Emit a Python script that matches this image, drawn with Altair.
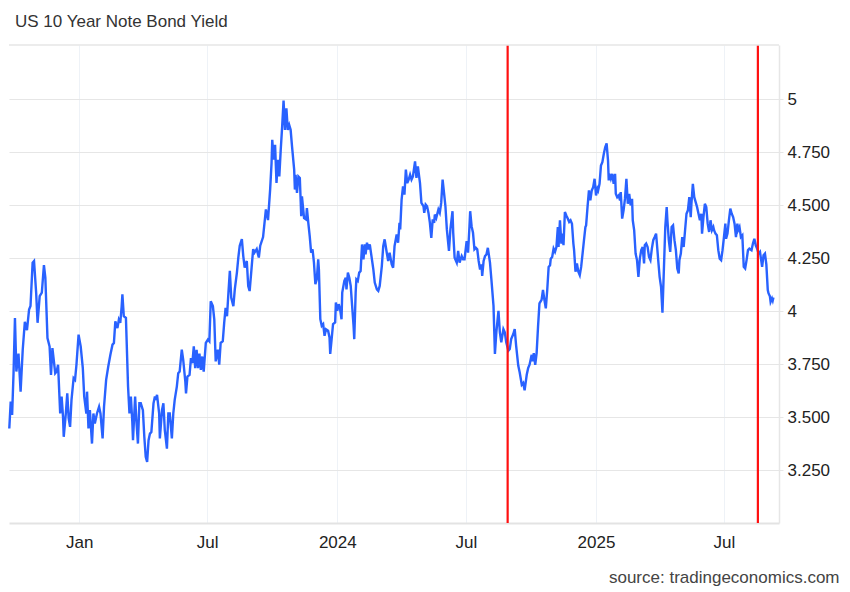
import altair as alt
import pandas as pd

title_text = "US 10 Year Note Bond Yield"
source_text = "source: tradingeconomics.com"

# day offsets from base_date and the yield values
base_date = "2023-01-01"
day_offsets = [
    -99, -97, -95, -93, -91, -89, -86, -83, -80, -77, -74, -71, -69, -66, -64, -61, -59, -56, -53, -50,
    -48, -45, -42, -40, -38, -34, -32, -30, -27, -25, -23, -22, -19, -17, -15, -13, -11, -8, -6, -4,
    -1, 2, 5, 7, 10, 11, 13, 15, 18, 20, 22, 25, 28, 30, 33, 35, 38, 41, 44, 47,
    49, 51, 54, 56, 58, 60, 61, 63, 66, 69, 71, 73, 75, 76, 79, 81, 83, 85, 87, 90,
    92, 94, 96, 98, 100, 102, 105, 107, 108, 110, 113, 114, 117, 119, 121, 124, 126, 128, 131, 133,
    135, 138, 140, 142, 145, 147, 150, 151, 153, 156, 158, 160, 162, 164, 166, 168, 170, 172, 174, 176,
    179, 182, 184, 186, 189, 191, 193, 196, 198, 200, 203, 205, 207, 209, 211, 213, 215, 218, 220, 223,
    225, 227, 230, 232, 234, 237, 239, 241, 244, 246, 248, 251, 254, 256, 260, 264, 267,
    270, 272, 273, 275, 277, 279, 281, 283, 285, 287, 289, 291, 293, 295, 297, 299, 301, 304, 305, 306,
    308, 310, 312, 314, 315, 318, 321, 322, 324, 326, 328, 330, 332, 334, 336, 338, 339, 341, 343, 345,
    347, 349, 352, 354, 355, 357, 359, 362, 363, 365, 367, 369, 371, 372, 375, 377, 378, 380, 382, 384,
    386, 388, 389, 391, 392, 394, 396, 398, 400, 402, 404, 405, 407, 409, 411, 413, 416, 418, 421, 423,
    425, 428, 430, 432, 435, 437, 439, 442, 444, 446, 449, 451, 453, 454, 456, 458, 460, 462, 464, 466,
    468, 470, 472, 475, 477, 479, 482, 484, 487, 488, 490, 492, 494, 496, 498, 500, 502, 503, 505, 508,
    510, 512, 514, 516, 518, 520, 523, 525, 528, 529, 531, 534, 536, 538, 541, 543, 545, 548, 550, 552,
    553, 555, 557, 559, 561, 563, 565, 567, 569, 570, 572, 574, 576, 578, 581, 583, 586, 588, 590, 593,
    595, 597, 600, 602, 604, 607, 609, 611, 614, 616, 618, 621, 623,
    626, 628, 630, 633, 635, 637, 640, 641, 643, 645, 647, 649, 651, 654, 656, 658, 660, 662, 664, 666,
    667, 669, 671, 673, 675, 677, 678, 680, 682, 684, 685, 687, 689, 691, 693, 695, 697, 699, 700, 702,
    704, 706, 708, 710, 712, 714, 716, 717, 719, 721, 723, 725, 727, 729, 731, 733, 734, 736, 738, 740,
    742, 744, 746, 748, 749, 750, 752, 754, 756, 758, 759, 761, 763, 765, 766, 768, 770, 772, 774, 776,
    778, 780, 782, 783, 785, 787, 789, 791, 793, 795, 797, 799, 800, 802, 804, 806, 808, 810, 812, 814,
    816, 819, 821, 823, 825, 827, 829, 831, 832, 834, 836, 838, 840, 842, 844, 846, 848, 849, 851, 853,
    855, 857, 859, 861, 863, 865, 866, 868, 870, 872, 874, 876, 878, 880, 881, 883, 885, 887, 889, 891,
    893, 895, 897, 898, 900, 902, 904, 906, 908, 910, 912, 914, 915, 917, 919, 921, 923, 925, 927, 929,
    931, 932, 934, 936, 938, 940, 942, 944, 946, 948, 951, 953, 955, 957, 959, 961, 963, 964, 966, 968,
    970, 972, 974, 975, 977, 978, 980, 981, 982,
]
yields = [
    3.446, 3.573, 3.51, 3.707, 3.968, 3.715, 3.80, 3.62, 3.818, 3.95, 3.91, 4.008, 4.024, 4.229, 4.237, 4.087, 3.945, 4.071, 4.087, 4.217,
    4.158, 3.873, 3.834, 3.699, 3.826, 3.707, 3.715, 3.747, 3.517, 3.597, 3.502, 3.407, 3.517, 3.612, 3.494, 3.454, 3.581, 3.684, 3.676, 3.747,
    3.889, 3.834, 3.731, 3.597, 3.517, 3.62, 3.446, 3.533, 3.375, 3.517, 3.47, 3.517, 3.549, 3.517, 3.399, 3.549, 3.676, 3.739, 3.794, 3.842,
    3.85, 3.952, 3.92, 3.96, 3.945, 4.024, 4.079, 3.976, 3.968, 3.644, 3.517, 3.597, 3.478, 3.391, 3.597, 3.47, 3.375, 3.565, 3.565, 3.533,
    3.407, 3.312, 3.288, 3.391, 3.422, 3.43, 3.565, 3.597, 3.581, 3.605, 3.517, 3.399, 3.533, 3.565, 3.438, 3.351, 3.517, 3.517, 3.399, 3.517,
    3.581, 3.644, 3.707, 3.715, 3.818, 3.771, 3.668, 3.612, 3.691, 3.699, 3.778, 3.755, 3.834, 3.731, 3.818, 3.731, 3.80, 3.723, 3.786, 3.715,
    3.85, 3.866, 3.858, 4.047, 4.024, 3.96, 3.763, 3.818, 3.747, 3.85, 3.858, 3.945, 4.016, 3.976, 4.087, 4.19, 4.063, 4.024, 4.103, 4.182,
    4.253, 4.309, 4.34, 4.26, 4.206, 4.237, 4.119, 4.095, 4.214, 4.293, 4.277, 4.293, 4.253, 4.309, 4.35, 4.48, 4.43,
    4.574, 4.699, 4.809, 4.715, 4.785, 4.605, 4.715, 4.636, 4.762, 4.871, 4.994, 4.856, 4.958, 4.856, 4.879, 4.856, 4.777, 4.668, 4.574, 4.644,
    4.558, 4.636, 4.629, 4.448, 4.542, 4.44, 4.433, 4.487, 4.417, 4.354, 4.276, 4.292, 4.229, 4.127, 4.15, 4.245, 4.197, 3.962, 3.931, 3.939,
    3.884, 3.915, 3.908, 3.876, 3.798, 3.868, 3.939, 3.947, 4.041, 4.002, 4.033, 4.009, 3.962, 4.088, 4.143, 4.158, 4.103, 4.182, 4.158, 4.119,
    4.025, 3.931, 3.868, 4.088, 4.15, 4.143, 4.182, 4.19, 4.315, 4.245, 4.315, 4.268, 4.323, 4.292, 4.315, 4.268, 4.197, 4.135, 4.103, 4.096,
    4.119, 4.213, 4.307, 4.339, 4.276, 4.237, 4.276, 4.221, 4.205, 4.307, 4.362, 4.323, 4.417, 4.386, 4.527, 4.589, 4.55, 4.668, 4.605, 4.621,
    4.644, 4.621, 4.636, 4.707, 4.629, 4.683, 4.605, 4.511, 4.495, 4.464, 4.503, 4.495, 4.464, 4.417, 4.346, 4.433, 4.417, 4.456, 4.44, 4.48,
    4.464, 4.511, 4.621, 4.558, 4.495, 4.386, 4.284, 4.386, 4.472, 4.37, 4.252, 4.229, 4.284, 4.229, 4.26, 4.245, 4.245, 4.331, 4.276, 4.401,
    4.472, 4.401, 4.37, 4.292, 4.299, 4.292, 4.237, 4.197, 4.221, 4.166, 4.237, 4.26, 4.268, 4.299, 4.229, 4.15, 4.025, 3.798, 3.9, 4.002,
    3.9, 3.853, 3.915, 3.9, 3.853, 3.813, 3.821, 3.868, 3.892, 3.915, 3.837, 3.743, 3.712,
    3.653, 3.661, 3.626, 3.70, 3.731, 3.747, 3.794, 3.763, 3.802, 3.747, 3.802, 3.927, 4.037, 4.053, 4.10, 4.053, 4.013, 4.10, 4.209, 4.217,
    4.248, 4.256, 4.295, 4.28, 4.303, 4.397, 4.303, 4.429, 4.319, 4.366, 4.311, 4.468, 4.452, 4.437, 4.421, 4.429, 4.413, 4.319, 4.288, 4.186,
    4.225, 4.186, 4.17, 4.209, 4.272, 4.335, 4.397, 4.405, 4.491, 4.57, 4.523, 4.57, 4.585, 4.625, 4.546, 4.578, 4.57, 4.601, 4.687, 4.703,
    4.742, 4.774, 4.792, 4.711, 4.617, 4.648, 4.625, 4.648, 4.601, 4.648, 4.554, 4.538, 4.546, 4.523, 4.562, 4.437, 4.476, 4.531, 4.625, 4.507,
    4.554, 4.499, 4.531, 4.429, 4.382, 4.272, 4.241, 4.162, 4.248, 4.288, 4.303, 4.225, 4.311, 4.319, 4.303, 4.256, 4.241, 4.295, 4.335, 4.35,
    4.366, 4.241, 4.162, 4.115, 3.993, 4.194, 4.397, 4.491, 4.429, 4.335, 4.28, 4.397, 4.405, 4.335, 4.288, 4.201, 4.178, 4.241, 4.272, 4.35,
    4.303, 4.382, 4.46, 4.476, 4.538, 4.444, 4.507, 4.601, 4.538, 4.515, 4.491, 4.46, 4.429, 4.46, 4.366, 4.444, 4.507, 4.491, 4.413, 4.374,
    4.429, 4.382, 4.397, 4.382, 4.366, 4.358, 4.288, 4.248, 4.241, 4.288, 4.35, 4.413, 4.342, 4.366, 4.429, 4.484, 4.46, 4.444, 4.413, 4.35,
    4.413, 4.382, 4.397, 4.35, 4.358, 4.209, 4.201, 4.241, 4.288, 4.295, 4.288, 4.319, 4.342, 4.311, 4.295, 4.272, 4.28, 4.256, 4.209, 4.264,
    4.272, 4.22, 4.10, 4.085, 4.07, 4.044, 4.06, 4.05, 4.065,
]

event_dates = ["2024-08-29", "2025-08-18"]

x_tick_dates = ["2023-01-01", "2023-07-01", "2024-01-01", "2024-07-01", "2025-01-01", "2025-07-01"]
x_tick_labels = ["Jan", "Jul", "2024", "Jul", "2025", "Jul"]
y_ticks = [3.25, 3.5, 3.75, 4.0, 4.25, 4.5, 4.75, 5.0]
y_tick_labels = ["3.250", "3.500", "3.750", "4", "4.250", "4.500", "4.750", "5"]

x_range = [("2022-09-23", 14), ("2025-09-16", 21)]
y_range = [3.0, 5.2565]

W, H = 770, 478
FONT = "Liberation Sans"

dates = pd.Timestamp(base_date) + pd.to_timedelta(day_offsets, unit="D")
df = pd.DataFrame({"date": dates.strftime("%Y-%m-%dT00:00:00"), "yield": yields})
df_events = pd.DataFrame({"date": [d + "T00:00:00" for d in event_dates]})


def dt(s, h=0):
    t = pd.Timestamp(s)
    return alt.DateTime(year=t.year, month=t.month, date=t.day, hours=h)


x_expr = ""
for d, lab in zip(x_tick_dates, x_tick_labels):
    x_expr += f"timeFormat(datum.value, '%Y-%m') == '{d[:7]}' ? '{lab}' : "
x_expr += "''"

y_expr = ""
for v, lab in zip(y_ticks, y_tick_labels):
    y_expr += f"abs(datum.value - {v}) < 0.001 ? '{lab}' : "
y_expr += "''"

x_scale = alt.Scale(domain=[dt(s, h) for s, h in x_range], nice=False)
y_scale = alt.Scale(domain=y_range, nice=False, zero=False)

x_axis = alt.Axis(
    values=[dt(s) for s in x_tick_dates],
    labelExpr=x_expr,
    grid=True,
    gridColor="#eef2f7",
    gridWidth=1,
    domainColor="#e3e3e3",
    domainWidth=2,
    ticks=False,
    labelPadding=11,
    labelFontSize=17,
    labelFont=FONT,
    labelColor="#222222",
    labelAngle=0,
    labelFlush=False,
    title=source_text,
    titleAnchor="end",
    titleAlign="right",
    titleBaseline="alphabetic",
    titleX=830,
    titleY=59,
    titleFontSize=17,
    titleFont=FONT,
    titleFontWeight="normal",
    titleColor="#444444",
)

y_axis = alt.Axis(
    orient="right",
    values=y_ticks,
    labelExpr=y_expr,
    grid=True,
    gridColor="#e6e6e6",
    gridWidth=1.2,
    domainColor="#e6e6e6",
    domainWidth=1.5,
    tickColor="#e6e6e6",
    tickSize=4,
    labelPadding=4,
    labelFontSize=17,
    labelFont=FONT,
    labelColor="#222222",
    labelBaseline="middle",
    title=None,
)

line = alt.Chart(df).mark_line(color="#2962ff", strokeWidth=2.4).encode(
    x=alt.X("date:T", scale=x_scale, axis=x_axis),
    y=alt.Y("yield:Q", scale=y_scale, axis=y_axis),
)

events = alt.Chart(df_events).mark_rule(color="#ff1010", strokeWidth=2.2).encode(
    x=alt.X("date:T", scale=x_scale),
)

top_border = alt.Chart(pd.DataFrame({"k": [0]})).mark_rule(color="#e6e6e6", strokeWidth=1.5).encode(
    y=alt.value(0), x=alt.value(0), x2=alt.value(W)
)

chart = (
    alt.layer(line, events, top_border)
    .properties(
        width=W,
        height=H,
        autosize="none",
        padding={"left": 1, "top": 37, "right": 62, "bottom": 66},
        background="white",
        title=alt.TitleParams(
            text=title_text,
            anchor="start",
            frame="group",
            dx=6,
            offset=13,
            fontSize=17,
            font=FONT,
            fontWeight="normal",
            color="#333333",
        ),
    )
    .configure_view(stroke=None)
)

chart.save("out.html", embed_options={"renderer": "svg", "actions": False})
